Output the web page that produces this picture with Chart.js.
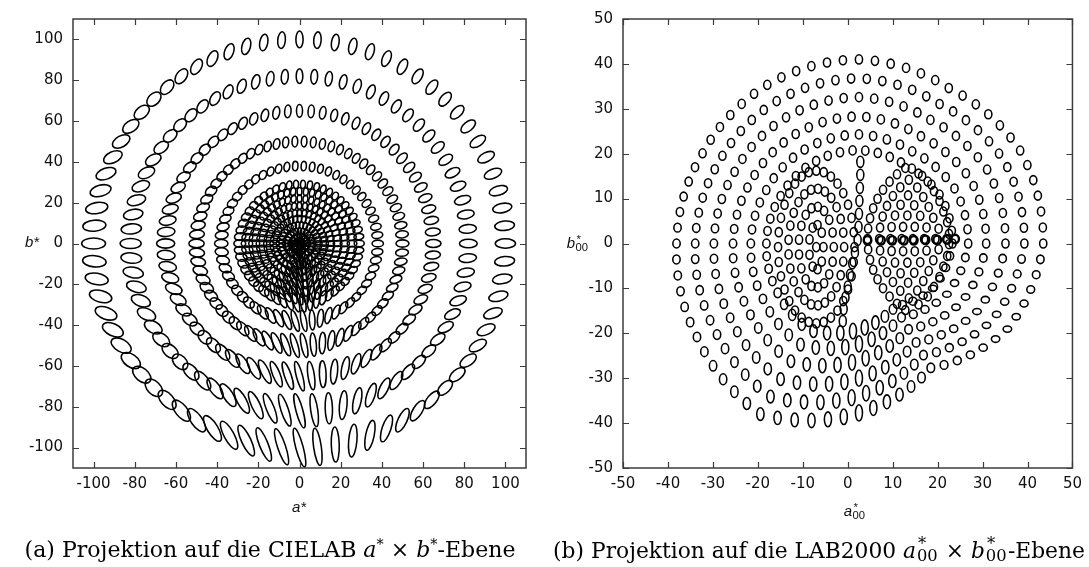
<!DOCTYPE html>
<html lang="de">
<head>
<meta charset="utf-8">
<title>Projektion CIELAB / LAB2000</title>
<script src="https://cdn.jsdelivr.net/npm/chart.js@4.4.1/dist/chart.umd.min.js"></script>
<style>
  body { margin: 0; background: #fff; }
  #figure { position: relative; width: 1089px; height: 567px; overflow: hidden; background: #fff; }
  canvas { position: absolute; top: 0; }
  .axis-title {
    position: absolute;
    font: italic 15px "Liberation Sans", Arial, sans-serif;
    color: #111;
    white-space: nowrap;
    transform: translate(-50%, -50%);
  }
  /* superscript star over subscript 00 */
  .ss { display: inline-block; position: relative; width: 0.95em; height: 1em; vertical-align: baseline; font-style: normal; }
  .ss span { position: absolute; left: 0.05em; font-size: 0.75em; line-height: 1; }
  .ss .up { top: 0.13em; left: 0.12em; }
  .ss .dn { top: 0.77em; }
  .caption {
    position: absolute;
    top: 536px;
    font-family: "DejaVu Serif", serif;
    font-size: 18px;
    line-height: 1.2;
    white-space: nowrap;
    transform: translateX(-50%);
    color: #000;
  }
  .caption sup { font-size: 0.65em; }
  .caption .ss { width: 1.05em; }
  .caption .ss .up { top: 0.02em; }
  .caption .ss .dn { top: 0.72em; }
</style>
</head>
<body>
<div id="figure">
  <canvas id="cielab-chart" width="545" height="567" style="left:0"></canvas>
  <canvas id="lab2000-chart" width="544" height="567" style="left:545px"></canvas>

  <span class="axis-title" style="left:299px;top:506px">a*</span>
  <span class="axis-title" style="left:32px;top:241px">b*</span>
  <span class="axis-title" style="left:855px;top:510px">a<span class="ss"><span class="up">*</span><span class="dn">00</span></span></span>
  <span class="axis-title" style="left:578px;top:242px">b<span class="ss"><span class="up">*</span><span class="dn">00</span></span></span>

  <div class="caption" id="caption-a" style="left:270px">(a) Projektion auf die CIELAB <i>a</i><sup>*</sup> × <i>b</i><sup>*</sup>-Ebene</div>
  <div class="caption" id="caption-b" style="left:819px">(b) Projektion auf die LAB2000 <i>a</i><span class="ss"><span class="up">*</span><span class="dn">00</span></span> × <i>b</i><span class="ss"><span class="up">*</span><span class="dn">00</span></span>-Ebene</div>
</div>

<script>
// ---- CIELAB panel: samples on chroma rings ----
const cielabChroma = [100, 82, 65, 50, 38, 29, 25.5, 22, 18.5, 15, 12, 9, 6, 3.5, 1.5];
// samples per ring (5 degree steps on the outer rings, fewer inside)
const cielabRingCount = [72, 72, 72, 70, 58, 54, 52, 48, 44, 40, 36, 30, 24, 16, 8];
// ellipse half axes (outer ring) and tilt, read at these hues
const cielabShapeHue = [0, 45, 90, 135, 180, 225, 270, 315, 360];
const cielabMajor = [4.9, 4.0, 4.1, 4.1, 5.8, 5.1, 9.8, 4.5, 4.9];
const cielabMinor = [2.3, 2.2, 1.75, 2.7, 2.7, 3.2, 1.8, 2.4, 2.3];
const cielabTilt = [0, 50, 90, 45, 0, -45, -75, -135, -180];
// how much smaller the ellipses get on each inner ring
const cielabMajorScale = [1, 0.88, 0.76, 0.64, 0.56, 0.5, 0.48, 0.46, 0.44, 0.42, 0.41, 0.4, 0.39, 0.38, 0.37];
const cielabMinorScale = [1, 0.92, 0.84, 0.77, 0.72, 0.68, 0.66, 0.64, 0.62, 0.6, 0.59, 0.58, 0.57, 0.57, 0.57];
const cielabTicks = [-100, -80, -60, -40, -20, 0, 20, 40, 60, 80, 100];

// ---- LAB2000 panel ----
// outer rings around one centre, radius profile read at these angles
const lab2000CenterA = 2.5;
const lab2000CenterB = 0;
const lab2000RingRadius = [41, 36.8, 32.6, 28.3, 24.3, 20.8];
const lab2000RingCount = [72, 66, 60, 54, 48, 46];
const lab2000ProfileAngle = [0, 30, 60, 90, 120, 150, 180, 210, 240, 270, 300, 330, 360];
const lab2000ProfileScale = [1.0, 1.01, 0.975, 1.0, 0.995, 0.98, 0.99, 1.015, 1.07, 0.92, 0.78, 0.93, 1.0];
const lab2000SemiA = [0.8, 0.8, 0.8, 0.8, 0.8, 0.8, 0.82, 0.82, 0.82, 0.78, 0.85, 0.95, 0.8];
const lab2000SemiB = [1.0, 1.0, 1.02, 1.02, 1.02, 1.0, 0.98, 1.05, 1.4, 1.8, 1.05, 0.68, 1.0];
// left inner cluster (tall rings)
const lab2000LeftCenterA = -7;
const lab2000LeftCenterB = -0.8;
const lab2000LeftRadiusA = [8.5, 6.2, 3.9, 1.6, 0];
const lab2000LeftRadiusB = [17, 13, 9, 5, 0];
const lab2000LeftCount = [32, 25, 17, 9, 1];
// right inner cluster (fan of arcs opening to the left)
const lab2000FanCenterA = 23.5;
const lab2000FanCenterB = 1;
const lab2000FanRadius = [19.1, 16.5, 14, 11.5, 9, 6.5, 4, 1.5];
const lab2000FanStart = [124, 118, 114, 112, 110, 110, 110, 130];
const lab2000FanEnd = [236, 242, 246, 248, 250, 250, 250, 230];
const lab2000FanCount = [17, 15, 13, 11, 9, 7, 5, 3];
// vertical chain between the two clusters
const lab2000ColumnA = [2.8, 2.8, 2.7, 2.6, 2.5, 2.4, 2.2, 1.6, 1.0, 0.5, 0.0, -0.5, -0.9, -1.1];
const lab2000ColumnB = [18.2, 15.3, 12.4, 9.5, 6.6, 3.7, 0.8, -2.0, -4.4, -7.0, -9.6, -12.0, -14.6, -17.3];
// heavy row of doubled ellipses right of the centre
const lab2000RowA = [4.4, 7.4, 9.9, 12.5, 14.7, 17.3, 19.9, 22.1, 23.9];
const lab2000RowB = [0.7, 0.7, 0.7, 0.7, 0.7, 0.8, 0.8, 0.9, 1.0];
const lab2000Ticks = [-50, -40, -30, -20, -10, 0, 10, 20, 30, 40, 50];

function readAt(angles, values, h) {
  h = ((h % 360) + 360) % 360;
  for (let i = 0; i < angles.length - 1; i++) {
    if (h >= angles[i] && h <= angles[i + 1]) {
      const t = (h - angles[i]) / (angles[i + 1] - angles[i]);
      return values[i] + t * (values[i + 1] - values[i]);
    }
  }
  return values[0];
}

const rad = deg => deg * Math.PI / 180;

// CIELAB datasets, one per chroma ring
const cielabDatasets = cielabChroma.map((chroma, k) => {
  const data = [];
  for (let j = 0; j < cielabRingCount[k]; j++) {
    const h = j * 360 / cielabRingCount[k];
    data.push({
      x: chroma * Math.cos(rad(h)),
      y: chroma * Math.sin(rad(h)),
      rx: readAt(cielabShapeHue, cielabMajor, h) * cielabMajorScale[k],
      ry: readAt(cielabShapeHue, cielabMinor, h) * cielabMinorScale[k],
      tilt: readAt(cielabShapeHue, cielabTilt, h)
    });
  }
  return { label: "C* " + chroma, data };
});

// LAB2000 datasets
const lab2000Datasets = [];

lab2000RingRadius.forEach((radius, k) => {
  const data = [];
  for (let j = 0; j < lab2000RingCount[k]; j++) {
    const ang = j * 360 / lab2000RingCount[k];
    const r = radius * readAt(lab2000ProfileAngle, lab2000ProfileScale, ang);
    data.push({
      x: lab2000CenterA + r * Math.cos(rad(ang)),
      y: lab2000CenterB + r * Math.sin(rad(ang)),
      rx: readAt(lab2000ProfileAngle, lab2000SemiA, ang),
      ry: readAt(lab2000ProfileAngle, lab2000SemiB, ang),
      tilt: 0
    });
  }
  lab2000Datasets.push({ label: "ring " + k, data });
});

lab2000LeftRadiusA.forEach((ra, k) => {
  const data = [];
  for (let j = 0; j < lab2000LeftCount[k]; j++) {
    const ang = j * 360 / lab2000LeftCount[k];
    data.push({
      x: lab2000LeftCenterA + ra * Math.cos(rad(ang)),
      y: lab2000LeftCenterB + lab2000LeftRadiusB[k] * Math.sin(rad(ang)),
      rx: 0.8, ry: 1.02, tilt: 0
    });
  }
  lab2000Datasets.push({ label: "left " + k, data });
});

lab2000FanRadius.forEach((r, k) => {
  const data = [];
  const n = lab2000FanCount[k];
  for (let j = 0; j < n; j++) {
    const ang = lab2000FanStart[k] + j * (lab2000FanEnd[k] - lab2000FanStart[k]) / (n - 1);
    data.push({
      x: lab2000FanCenterA + r * Math.cos(rad(ang)),
      y: lab2000FanCenterB + r * Math.sin(rad(ang)),
      rx: 0.8, ry: 1.0, tilt: 0
    });
  }
  lab2000Datasets.push({ label: "fan " + k, data });
});

lab2000Datasets.push({
  label: "column",
  data: lab2000ColumnA.map((a, i) => ({ x: a, y: lab2000ColumnB[i], rx: 0.78, ry: 1.25, tilt: 0 }))
});

lab2000Datasets.push({
  label: "row",
  strokeWidth: 2.4,
  data: lab2000RowA.map((a, i) => ({ x: a, y: lab2000RowB[i], rx: 0.85, ry: 0.95, tilt: 0 }))
});

// draws every sample as an ellipse around the element position
const ellipsePlugin = {
  id: "ellipses",
  afterDatasetsDraw(chart) {
    const { ctx, chartArea, scales } = chart;
    const ux = Math.abs(scales.x.getPixelForValue(1) - scales.x.getPixelForValue(0));
    const uy = Math.abs(scales.y.getPixelForValue(1) - scales.y.getPixelForValue(0));
    ctx.save();
    ctx.beginPath();
    ctx.rect(chartArea.left, chartArea.top, chartArea.width, chartArea.height);
    ctx.clip();
    ctx.strokeStyle = "#000";
    chart.data.datasets.forEach((ds, i) => {
      ctx.lineWidth = ds.strokeWidth || 1.55;
      const meta = chart.getDatasetMeta(i);
      meta.data.forEach((pt, j) => {
        const d = ds.data[j];
        const t = -rad(d.tilt);
        const rx = d.rx * Math.hypot(ux * Math.cos(t), uy * Math.sin(t));
        const ry = d.ry * Math.hypot(ux * Math.sin(t), uy * Math.cos(t));
        ctx.beginPath();
        ctx.ellipse(pt.x, pt.y, rx, ry, t, 0, 2 * Math.PI);
        ctx.stroke();
      });
    });
    ctx.restore();
  }
};

// box round the plot with inward ticks on all four sides
const framePlugin = {
  id: "frame",
  afterDraw(chart) {
    const { ctx, chartArea: a, scales } = chart;
    ctx.save();
    ctx.strokeStyle = "#3c3c3c";
    ctx.lineWidth = 1.5;
    ctx.strokeRect(a.left, a.top, a.width, a.height);
    ctx.lineWidth = 1.2;
    ctx.beginPath();
    scales.x.ticks.forEach(t => {
      const px = Math.round(scales.x.getPixelForValue(t.value)) + 0.5;
      ctx.moveTo(px, a.bottom); ctx.lineTo(px, a.bottom - 6);
      ctx.moveTo(px, a.top); ctx.lineTo(px, a.top + 6);
    });
    scales.y.ticks.forEach(t => {
      const py = Math.round(scales.y.getPixelForValue(t.value)) + 0.5;
      ctx.moveTo(a.left, py); ctx.lineTo(a.left + 6, py);
      ctx.moveTo(a.right, py); ctx.lineTo(a.right - 6, py);
    });
    ctx.stroke();
    ctx.restore();
  }
};

function makeChart(canvasId, datasets, range, tickValues, axisWidth, padRight) {
  const tickFont = { family: "'DejaVu Sans', Arial, sans-serif", size: 15 };
  return new Chart(document.getElementById(canvasId), {
    type: "scatter",
    data: { datasets },
    options: {
      responsive: false,
      animation: false,
      devicePixelRatio: 1,
      events: [],
      layout: { padding: { top: 15, right: padRight, bottom: 0, left: 0 } },
      elements: { point: { radius: 0, hoverRadius: 0 } },
      plugins: { legend: { display: false }, tooltip: { enabled: false } },
      scales: {
        x: {
          type: "linear",
          min: -range,
          max: range,
          grid: { display: false, drawTicks: false },
          border: { display: false },
          ticks: { font: tickFont, color: "#111", padding: 7, maxRotation: 0, autoSkip: false },
          afterBuildTicks: scale => { scale.ticks = tickValues.map(v => ({ value: v })); },
          afterFit: scale => { scale.height = 99; }
        },
        y: {
          type: "linear",
          min: -range,
          max: range,
          grid: { display: false, drawTicks: false },
          border: { display: false },
          ticks: { font: tickFont, color: "#111", padding: 10, autoSkip: false },
          afterBuildTicks: scale => { scale.ticks = tickValues.map(v => ({ value: v })); },
          afterFit: scale => { scale.width = axisWidth; }
        }
      }
    },
    plugins: [ellipsePlugin, framePlugin]
  });
}

makeChart("cielab-chart", cielabDatasets, 110, cielabTicks, 73, 19);
makeChart("lab2000-chart", lab2000Datasets, 50, lab2000Ticks, 78, 12);

function fitCaption(id, width) {
  const el = document.getElementById(id);
  const w = el.getBoundingClientRect().width;
  const size = parseFloat(getComputedStyle(el).fontSize);
  el.style.fontSize = (size * width / w).toFixed(2) + "px";
}
fitCaption("caption-a", 491);
fitCaption("caption-b", 532);
</script>
</body>
</html>
